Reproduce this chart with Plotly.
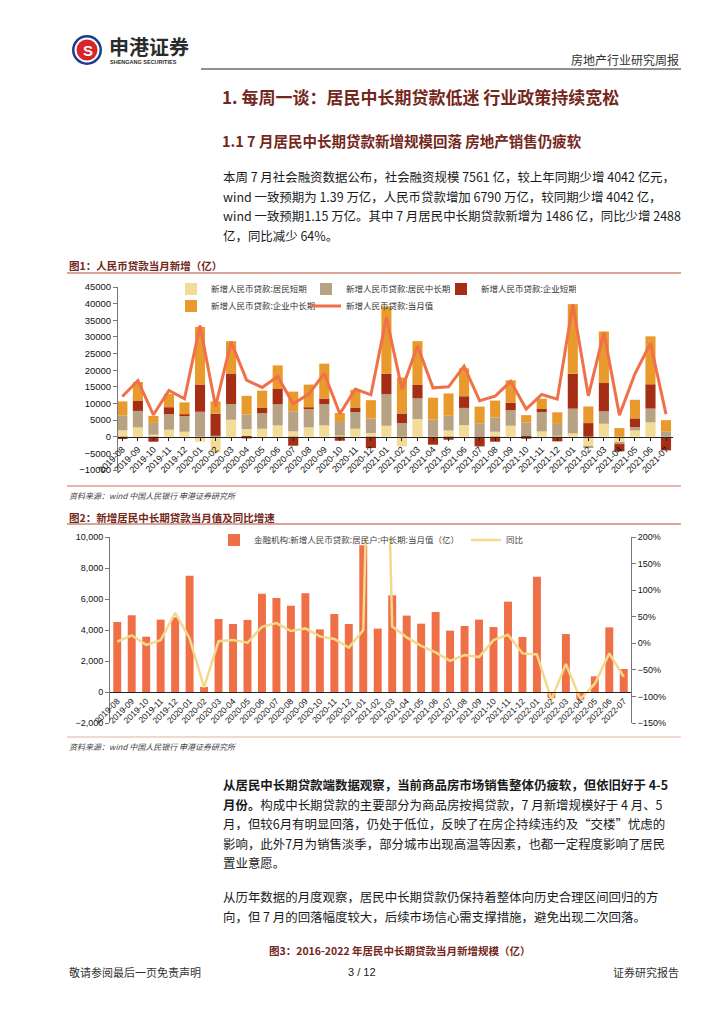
import plotly.graph_objects as go

# ---------------- data ----------------
labels1 = ["2019-08", "2019-09", "2019-10", "2019-11", "2019-12",
           "2020-01", "2020-02", "2020-03", "2020-04", "2020-05", "2020-06",
           "2020-07", "2020-08", "2020-09", "2020-10", "2020-11", "2020-12",
           "2021-01", "2021-02", "2021-03", "2021-04", "2021-05", "2021-06",
           "2021-07", "2021-08", "2021-09", "2021-10", "2021-11", "2021-12",
           "2021-01", "2021-02", "2021-03", "2021-04", "2021-05", "2021-06", "2021-07"]

hh_short = [1900, 2800, 600, 2100, 1500,
            -1500, -4700, 5100, 2300, 2400, 3400, 1600, 2800, 3400, 400, 2400, 1100,
            3300, -2900, 5300, 200, 1900, 3500, 100, 1500, 3300, 100, 1600, 300,
            1000, -2800, 3900, -1700, 1900, 4300, -300]
hh_mid = [4520, 4950, 3570, 4670, 4820,
          7500, 330, 4710, 4390, 4650, 6340, 6060, 5570, 6370, 4040, 5030, 4390,
          9460, 4090, 6240, 4930, 4410, 5160, 3960, 4260, 4670, 4190, 5830, 3550,
          7440, -400, 3740, -500, 1010, 4170, 1486]
corp_short = [-700, 3000, -1500, 2100, 400,
              8200, 6600, 9200, -500, 1600, 4600, -2700, 400, 1700, -1200, 1200, -3400,
              6100, 2900, 4000, -2400, -900, 3500, -2900, -1500, 2200, -600, 900, -1400,
              10500, 4100, 8500, -2200, 2600, 7300, -3800]
corp_mid = [4200, 5700, 2100, 4000, 3600,
            17300, 3700, 9700, 5600, 5200, 7100, 5900, 6900, 10500, 2700, 5500, 5500,
            20300, 10800, 13200, 6600, 6700, 8400, 5000, 5100, 6800, 2200, 3100, 3500,
            20900, 5000, 15500, 2600, 5600, 14400, 3500]
total_new = [12100, 16900, 6600, 13900, 11400,
             33400, 9100, 28500, 17000, 14800, 18100, 9900, 12800, 19000, 6900, 14300, 12600,
             35800, 14300, 27300, 14700, 15000, 21200, 10800, 12200, 16600, 8300, 12700, 11300,
             39800, 12300, 31300, 6500, 18900, 28100, 6790]

labels2 = ["2019-08", "2019-09", "2019-10", "2019-11", "2019-12",
           "2020-01", "2020-02", "2020-03", "2020-04", "2020-05", "2020-06",
           "2020-07", "2020-08", "2020-09", "2020-10", "2020-11", "2020-12",
           "2021-01", "2021-02", "2021-03", "2021-04", "2021-05", "2021-06",
           "2021-07", "2021-08", "2021-09", "2021-10", "2021-11", "2021-12",
           "2022-01", "2022-02", "2022-03", "2022-04", "2022-05", "2022-06", "2022-07"]
hh_mid_monthly = hh_mid
hh_mid_yoy = [3, 15, -3, 6, 57,
              9, -83, 4, 6, 1, 31, 38, 23, 28, 13, 8, -8,
              25, 1100, 32, 11, -5, -17, -33, -22, -26, 6, 16, -19,
              -21, -106, -39, -105, -76, -19, -63]

# ---------------- helpers ----------------
W, H = 724, 1024
OFF = 8  # page body margin of the browser
CJK = "Noto Sans CJK SC"
LAT = "Liberation Sans, Arial, sans-serif"
BROWN = "#74271C"


def X(px):
    return (px - OFF) / W


def Y(py):
    return 1 - (py - OFF) / H


annotations = []
shapes = []


def txt(x, y, s, size, color="#1a1a1a", anchor="left", family=CJK, bold=False, italic=False):
    if bold:
        s = "<b>" + s + "</b>"
    if italic:
        s = "<i>" + s + "</i>"
    annotations.append(dict(x=X(x), y=Y(y), xref="paper", yref="paper", text=s,
                            showarrow=False, xanchor=anchor, yanchor="middle",
                            font=dict(size=size, color=color, family=family)))


def hline(x0, x1, y, color, width=1):
    shapes.append(dict(type="line", xref="paper", yref="paper", x0=X(x0), x1=X(x1),
                       y0=Y(y), y1=Y(y), line=dict(color=color, width=width)))


def circle(cx, cy, r, color):
    shapes.append(dict(type="circle", xref="paper", yref="paper", x0=X(cx - r), x1=X(cx + r),
                       y0=Y(cy + r), y1=Y(cy - r), fillcolor=color, line=dict(width=0)))


# ---------------- figure ----------------
fig = go.Figure()
idx1 = list(range(len(labels1)))
idx2 = list(range(len(labels2)))

bar_specs = [("新增人民币贷款:居民短期", hh_short, "#F2DC98", "legend"),
             ("新增人民币贷款:居民中长期", hh_mid, "#B8A284", "legend"),
             ("新增人民币贷款:企业短期", corp_short, "#A52E14", "legend"),
             ("新增人民币贷款:企业中长期", corp_mid, "#E89B2C", "legend2")]
for name, vals, col, lg in bar_specs:
    fig.add_trace(go.Bar(x=idx1, y=vals, name=name, marker=dict(color=col, line=dict(width=0)),
                         width=0.65, xaxis="x", yaxis="y", legend=lg))
fig.add_trace(go.Scatter(x=idx1, y=total_new, name="新增人民币贷款:当月值", mode="lines",
                         line=dict(color="#F0704A", width=3), xaxis="x", yaxis="y", legend="legend2"))

fig.add_trace(go.Bar(x=idx2, y=hh_mid_monthly, name="金融机构:新增人民币贷款:居民户:中长期:当月值（亿）",
                     marker=dict(color="#EF7047", line=dict(width=0)), width=0.55,
                     xaxis="x2", yaxis="y2", legend="legend3"))
fig.add_trace(go.Scatter(x=idx2, y=hh_mid_yoy, name="同比", mode="lines",
                         line=dict(color="#F3D98B", width=2.5), xaxis="x2", yaxis="y3",
                         legend="legend3", legendwidth=30))

# chart 1 geometry (page pixels)
c1_l, c1_r, c1_t, c1_b = 118, 673, 287, 470
y1rng = [-10000, 45000]
y1dom = [Y(c1_b), Y(c1_t)]
y1zero = y1dom[0] + (0 - y1rng[0]) / (y1rng[1] - y1rng[0]) * (y1dom[1] - y1dom[0])

# chart 2 geometry
c2_l, c2_r, c2_t, c2_b = 110, 631, 537, 723
y2rng = [-2000, 10000]
y2dom = [Y(c2_b), Y(c2_t)]
y2zero = y2dom[0] + (0 - y2rng[0]) / (y2rng[1] - y2rng[0]) * (y2dom[1] - y2dom[0])

tickfont = dict(size=9, color="#111", family=LAT)

legend_common = dict(orientation="h", xanchor="left", yanchor="middle", bgcolor="rgba(0,0,0,0)",
                     entrywidthmode="pixels", itemwidth=30, tracegroupgap=0)

fig.update_layout(
    width=W, height=H, margin=dict(l=0, r=0, t=0, b=0, pad=0, autoexpand=False),
    paper_bgcolor="white", plot_bgcolor="white",
    barmode="relative",
    showlegend=True,
    legend=dict(x=X(171), y=Y(289), entrywidth=90, font=dict(size=8.5, color="#333", family=CJK),
                **legend_common),
    legend2=dict(x=X(171), y=Y(306), entrywidth=90, font=dict(size=8.5, color="#333", family=CJK),
                 **legend_common),
    legend3=dict(x=X(214), y=Y(540), entrywidth=207, font=dict(size=8.5, color="#444", family=CJK),
                 **legend_common),
    xaxis=dict(domain=[X(c1_l), X(c1_r)], range=[-0.28, 35.45], anchor="free", position=y1zero,
               tickmode="array", tickvals=idx1, ticktext=labels1, tickangle=-45, automargin=False,
               tickfont=tickfont, showline=True, linecolor="#222", linewidth=1,
               ticks="outside", ticklen=3, tickcolor="#222", showgrid=False, zeroline=False),
    yaxis=dict(domain=y1dom, range=y1rng, dtick=5000, tickformat="d", anchor="x", automargin=False,
               tickfont=dict(size=9.5, color="#111", family=LAT), showline=True, linecolor="#777",
               ticks="outside", ticklen=4, tickcolor="#777", showgrid=False, zeroline=False),
    xaxis2=dict(domain=[X(c2_l), X(c2_r)], range=[-0.5, 35.5], anchor="free", position=y2zero,
                tickmode="array", tickvals=idx2, ticktext=labels2, tickangle=-45, automargin=False,
                tickfont=dict(size=8.5, color="#111", family=LAT), showline=True, linecolor="#222",
                linewidth=1, ticks="", showgrid=False, zeroline=False),
    yaxis2=dict(domain=y2dom, range=y2rng, dtick=2000, tickformat=",d", anchor="x2", automargin=False,
                tickfont=dict(size=9, color="#111", family=LAT), showline=True, linecolor="#777",
                ticks="outside", ticklen=4, tickcolor="#777", showgrid=False, zeroline=False),
    yaxis3=dict(overlaying="y2", side="right", anchor="x2", range=[-150, 200], dtick=50,
                automargin=False,
                ticksuffix="%", tickfont=dict(size=9, color="#111", family=LAT), showline=True,
                linecolor="#777", ticks="outside", ticklen=4, tickcolor="#777",
                showgrid=False, zeroline=False),
)

# ---------------- page furniture ----------------
# logo
circle(87, 50, 15, "#1B3D8F")
circle(87, 50, 12.5, "white")
circle(87, 50, 10.5, "#D7262B")
txt(87.5, 50.5, "S", 15, "white", anchor="center", family=LAT, bold=True)
txt(107, 46, "申港证券", 20, "#2b2b2b", bold=True)
txt(108, 62, "SHENGANG SECURITIES", 5.5, "#2b2b2b", family=LAT, bold=True)
txt(681, 59, "房地产行业研究周报", 12, "#333", anchor="right")
hline(201, 681, 69, "#222", 1.2)

# titles
txt(220, 96, "1. 每周一谈：居民中长期贷款低迷 行业政策持续宽松", 17, BROWN, bold=True)
txt(220, 140, "1.1 7 月居民中长期贷款新增规模回落 房地产销售仍疲软", 14.5, BROWN, bold=True)

LS = 19.6
FS = 12.45
para1 = ["本周 7 月社会融资数据公布，社会融资规模 7561 亿，较上年同期少增 4042 亿元，",
         "wind 一致预期为 1.39 万亿，人民币贷款增加 6790 万亿，较同期少增 4042 亿，",
         "wind 一致预期1.15 万亿。其中 7 月居民中长期贷款新增为 1486 亿，同比少增 2488",
         "亿，同比减少 64%。"]
for i, line in enumerate(para1):
    txt(221, 177 + i * LS, line, FS, "#1a1a1a")

# figure 1 caption
txt(67, 265, "图1：人民币贷款当月新增（亿）", 10.5, BROWN, bold=True)
hline(67, 681, 273, "#D9A596", 2)
hline(67, 681, 486, "#C9705E", 1)
txt(67, 495, "资料来源：wind 中国人民银行 申港证券研究所", 8, "#444", italic=True)

# figure 2 caption
txt(67, 517, "图2：新增居民中长期贷款当月值及同比增速", 10.5, BROWN, bold=True)
hline(67, 681, 524, "#D9A596", 2)
hline(67, 681, 737, "#E3B0A0", 1)
txt(67, 746, "资料来源：wind 中国人民银行 申港证券研究所", 8, "#444", italic=True)

para2 = ["<b>从居民中长期贷款端数据观察，当前商品房市场销售整体仍疲软，但依旧好于 4-5</b>",
         "<b>月份。</b>构成中长期贷款的主要部分为商品房按揭贷款，7 月新增规模好于 4 月、5",
         "月，但较6月有明显回落，仍处于低位，反映了在房企持续违约及“交楼”忧虑的",
         "影响，此外7月为销售淡季，部分城市出现高温等因素，也都一定程度影响了居民",
         "置业意愿。"]
for i, line in enumerate(para2):
    txt(221, 785 + i * LS, line, FS, "#1a1a1a")

para3 = ["从历年数据的月度观察，居民中长期贷款仍保持着整体向历史合理区间回归的方",
         "向，但 7 月的回落幅度较大，后续市场信心需支撑措施，避免出现二次回落。"]
for i, line in enumerate(para3):
    txt(221, 897 + i * LS, line, FS, "#1a1a1a")

txt(400, 950, "图3：2016-2022 年居民中长期贷款当月新增规模（亿）", 10.5, BROWN, anchor="center", bold=True)

# footer
txt(67, 972, "敬请参阅最后一页免责声明", 11, "#333")
txt(362, 972, "3 / 12", 11, "#222", anchor="center", family=LAT)
txt(681, 972, "证券研究报告", 11, "#333", anchor="right")

fig.update_layout(annotations=annotations, shapes=shapes)
fig.write_html("out.html")
